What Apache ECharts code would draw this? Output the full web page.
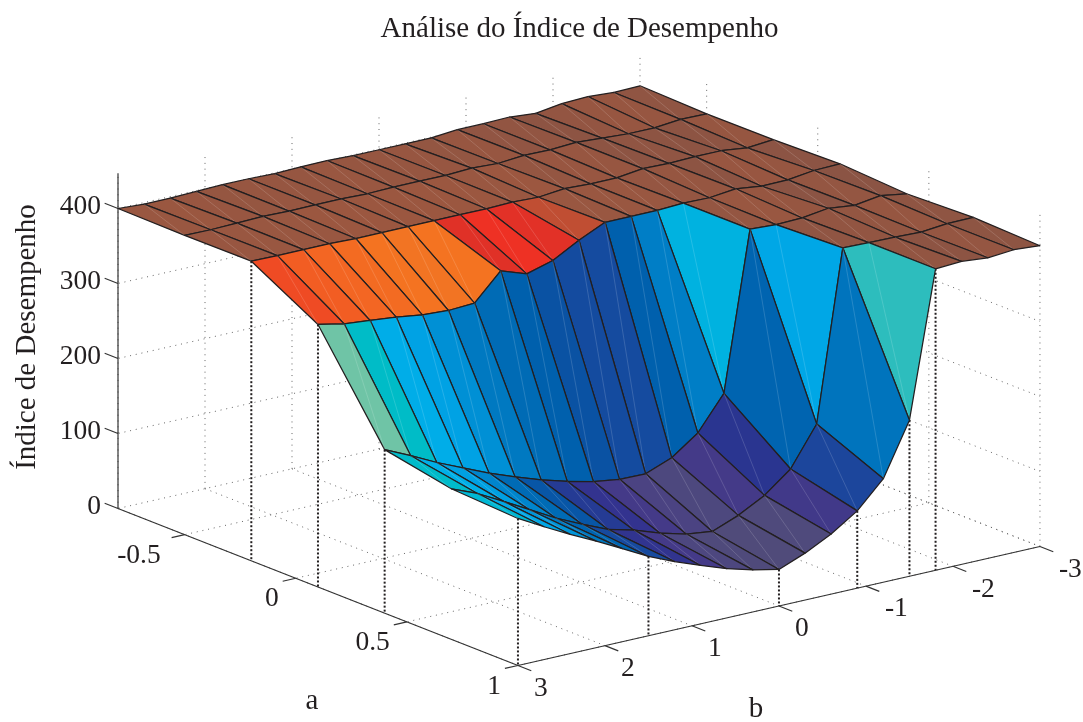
<!DOCTYPE html>
<html>
<head>
<meta charset="utf-8">
<style>html,body{margin:0;padding:0;background:#fff}#c{width:1083px;height:722px}</style>
<script src="https://cdn.jsdelivr.net/npm/echarts@6/dist/echarts.min.js"></script>
</head>
<body>
<div id="c"></div>
<script>
// ---- data ----
const aValues = [-0.8, -0.5, -0.2, 0.1, 0.4, 0.7, 1];
const bValues = [3, 2.7, 2.4, 2.1, 1.8, 1.5, 1.2, 0.9, 0.6, 0.3, 0, -0.3, -0.6, -0.9, -1.2, -1.5, -1.8, -2.1, -2.4, -2.7, -3];
const zRowA0 = [400, 398, 398, 399, 400, 400, 399, 400, 400.5, 399, 399, 399, 399, 402, 402, 403, 400, 405, 406.5, 404, 405];
const zRowA1 = [399, 398.6, 399.5, 400.5, 399.6, 400, 400, 399, 400, 400, 399.6, 401.4, 399.7, 402.5, 402, 404, 401.7, 399.7, 399.7, 403, 402.5];
const zRowA2 = [399.5, 399, 399, 399, 398, 398, 398, 398, 398, 398, 399, 397.5, 401, 399.5, 399.6, 404, 403, 404, 404, 400, 403];
const zRowA3 = [350, 343, 339.5, 336, 331, 329, 331, 366, 354, 364, 383, 399, 399, 399, 400.7, 400, 404, 399.5, 400, 404.6, 405.6];
const zRowA4 = [218, 202, 185, 170, 155, 142, 130, 120, 112, 107, 106.5, 120, 145, 190, 401, 399, 400, 405, 401, 406, 400.5];
const zRowA5 = [200.7, 186.5, 168, 149, 130, 114, 99, 90, 78, 69, 64.5, 78, 96.7, 124, 176, 403, 402, 401.5, 400, 403.4, 404];
const zRowA6 = [196, 177, 159, 142, 124, 105.7, 91, 77.8, 65.5, 56, 48.7, 62.5, 80, 103, 138, 208, 402, 404, 400.8, 403.6, 401];
const zRows = [zRowA0, zRowA1, zRowA2, zRowA3, zRowA4, zRowA5, zRowA6];

const aTicks = [-0.5, 0, 0.5, 1];
const bTicks = [3, 2, 1, 0, -1, -2, -3];
const zTicks = [0, 100, 200, 300, 400];
const aMin = -0.8, aMax = 1, bMin = -3, bMax = 3, zMin = 0, zMax = 447;
const stemA = [-0.2, 0.1, 0.4, 1];        // stems along the b = 3 edge
const stemB = [1.5, 0, -0.9, -1.5, -1.8]; // stems along the a = 1 edge

const titleText = 'Análise do Índice de Desempenho';
const aName = 'a', bName = 'b', zName = 'Índice de Desempenho';

// colour scale: z -> colour
const colorStopsZ = [48, 62, 70, 78, 88, 97, 103, 112, 120, 130, 142, 155, 170, 186, 192, 202, 208, 218, 331, 340, 350, 354, 366, 383, 398, 405];
const colorStopsC = ['#504b7a', '#4f4a7c', '#4a4283', '#443a88', '#35338f', '#2a3590', '#1c469c', '#0a52a3', '#0060ad', '#006bb5', '#0079c1', '#0090d5', '#00a2e4', '#00aee8', '#00b4dc', '#00bcc7', '#2dbdbd', '#6fc4a6', '#f47321', '#f36523', '#ef4b24', '#ee3124', '#e03127', '#c04e33', '#9b5740', '#8b5444'];

// ---- view (orthographic projection onto the page plane) ----
const view = { ox: 118, oy: 508.5, ax: 222.2, ay: 87.2, bx: 87, by: -19.83, z: 0.75 };
function project(a, b, z) {
  return [
    view.ox + (a - aMin) * view.ax + (bMax - b) * view.bx,
    view.oy + (a - aMin) * view.ay + (bMax - b) * view.by - z * view.z
  ];
}
function hex(c) { return [1, 3, 5].map(k => parseInt(c.substr(k, 2), 16)); }
function colorOf(z) {
  const S = colorStopsZ, C = colorStopsC;
  if (z <= S[0]) return C[0];
  for (let k = 1; k < S.length; k++) {
    if (z <= S[k]) {
      const t = (z - S[k - 1]) / (S[k] - S[k - 1]);
      const p = hex(C[k - 1]), q = hex(C[k]);
      return 'rgb(' + p.map((v, n) => Math.round(v + (q[n] - v) * t)).join(',') + ')';
    }
  }
  return C[C.length - 1];
}
function zAtA(a, j) { return zRows[aValues.findIndex(v => Math.abs(v - a) < 1e-6)][j]; }
function zAtB(i, b) { return zRows[i][bValues.findIndex(v => Math.abs(v - b) < 1e-6)]; }

// ---- build segments ----
const gridSegs = [];
function seg(list, p, q) { list.push(p.concat(q)); }
aTicks.forEach(a => {
  seg(gridSegs, [a, bMin, zMin], [a, bMax, zMin]);
  seg(gridSegs, [a, bMin, zMin], [a, bMin, zMax]);
});
bTicks.forEach(b => {
  seg(gridSegs, [aMin, b, zMin], [aMax, b, zMin]);
  seg(gridSegs, [aMin, b, zMin], [aMin, b, zMax]);
});
zTicks.forEach(z => {
  seg(gridSegs, [aMin, bMin, z], [aMin, bMax, z]);
  seg(gridSegs, [aMin, bMin, z], [aMax, bMin, z]);
});
const stemSegs = [];
stemA.forEach(a => seg(stemSegs, [a, bMax, zAtA(a, 0)], [a, bMax, zMin]));
stemB.forEach(b => seg(stemSegs, [aMax, b, zAtB(aValues.length - 1, b)], [aMax, b, zMin]));

const axisSegs = [];
seg(axisSegs, [aMin, bMax, zMin], [aMax, bMax, zMin]);
seg(axisSegs, [aMax, bMax, zMin], [aMax, bMin, zMin]);
seg(axisSegs, [aMin, bMax, zMin], [aMin, bMax, zMax]);
aTicks.forEach(a => seg(axisSegs, [a, bMax, zMin], [a, bMax + 0.15, zMin]));
bTicks.forEach(b => seg(axisSegs, [aMax, b, zMin], [aMax + 0.06, b, zMin]));
zTicks.forEach(z => seg(axisSegs, [aMin, bMax, z], [aMin - 0.06, bMax, z]));

// painter's order: far cells first
const cells = [];
for (let i = 0; i < aValues.length - 1; i++) {
  for (let j = bValues.length - 2; j >= 0; j--) cells.push([i, j]);
}

const labels = [];
const serif = '"Liberation Serif","Times New Roman",serif';
const tickSize = 27.5, nameSize = 29;
aTicks.forEach(a => {
  const p = project(a, bMax, zMin);
  labels.push({ t: String(a), x: p[0] - (a < 0 ? 24 : 17), y: p[1] + 21, align: 'right', size: tickSize });
});
bTicks.forEach(b => {
  const p = project(aMax, b, zMin);
  labels.push({ t: String(b), x: p[0] + (b < 0 ? 19 : 16), y: p[1] + 23, align: 'left', size: tickSize });
});
zTicks.forEach(z => {
  const p = project(aMin, bMax, z);
  labels.push({ t: String(z), x: p[0] - 17, y: p[1] - 2, align: 'right', size: tickSize });
});
labels.push({ t: aName, x: 312, y: 701, align: 'center', size: nameSize });
labels.push({ t: bName, x: 756, y: 709, align: 'center', size: nameSize });
labels.push({ t: zName, x: 27, y: 337, align: 'center', size: nameSize, rot: Math.PI / 2 });

function segRender(style) {
  return function (params, api) {
    const p = api.coord(project(api.value(0), api.value(1), api.value(2)));
    const q = api.coord(project(api.value(3), api.value(4), api.value(5)));
    return { type: 'line', shape: { x1: p[0], y1: p[1], x2: q[0], y2: q[1] }, style: style, silent: true };
  };
}
function cellRender(params, api) {
  const i = api.value(0), j = api.value(1);
  const v = (m, n) => api.coord(project(aValues[m], bValues[n], zRows[m][n]));
  const p00 = v(i, j), p01 = v(i, j + 1), p11 = v(i + 1, j + 1), p10 = v(i + 1, j);
  return {
    type: 'group',
    children: [
      { type: 'polygon', shape: { points: [p00, p01, p11, p10] },
        style: { fill: colorOf(zRows[i + 1][j]), stroke: '#231f20', lineWidth: 1.25, lineJoin: 'round' } },
      { type: 'line', shape: { x1: p01[0], y1: p01[1], x2: p10[0], y2: p10[1] },
        style: { stroke: 'rgba(255,255,255,0.25)', lineWidth: 0.6 } }
    ]
  };
}
function labelRender(params, api) {
  const l = labels[api.value(0)];
  const p = api.coord([l.x, l.y]);
  return {
    type: 'text', x: p[0], y: p[1], rotation: l.rot || 0,
    style: { text: l.t, x: 0, y: 0, align: l.align, verticalAlign: 'middle',
      font: l.size + 'px ' + serif, fill: '#231f20' }
  };
}

const chart = echarts.init(document.getElementById('c'));
chart.setOption({
  animation: false,
  backgroundColor: '#ffffff',
  title: {
    text: titleText, left: 574.5, top: 10, textAlign: 'center',
    textStyle: { fontFamily: serif, fontSize: 29, fontWeight: 'normal', color: '#231f20' }
  },
  grid: { left: 0, right: 0, top: 0, bottom: 0 },
  xAxis: { type: 'value', min: 0, max: 1083, show: false },
  yAxis: { type: 'value', min: 0, max: 722, inverse: true, show: false },
  series: [
    { type: 'custom', name: 'grid', coordinateSystem: 'cartesian2d', silent: true, clip: false, z: 1,
      renderItem: segRender({ stroke: '#666', lineWidth: 1, lineDash: [1, 4.8] }), data: gridSegs },
    { type: 'custom', name: 'axes', coordinateSystem: 'cartesian2d', silent: true, clip: false, z: 2,
      renderItem: segRender({ stroke: '#333', lineWidth: 1.2 }), data: axisSegs },
    { type: 'custom', name: 'stems', coordinateSystem: 'cartesian2d', silent: true, clip: false, z: 3,
      renderItem: segRender({ stroke: '#231f20', lineWidth: 2, lineDash: [2, 2] }), data: stemSegs },
    { type: 'custom', name: 'surface', coordinateSystem: 'cartesian2d', silent: true, clip: false, z: 4,
      renderItem: cellRender, data: cells },
    { type: 'custom', name: 'labels', coordinateSystem: 'cartesian2d', silent: true, clip: false, z: 5,
      renderItem: labelRender, data: labels.map((l, k) => [k]) }
  ]
});
</script>
</body>
</html>
